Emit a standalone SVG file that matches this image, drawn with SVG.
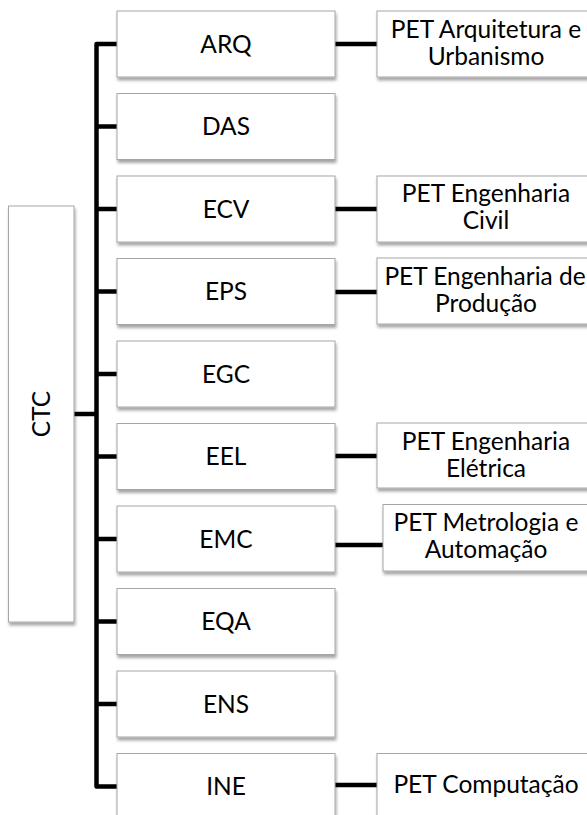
<svg xmlns="http://www.w3.org/2000/svg" width="587" height="815" viewBox="0 0 587 815">
<defs>
<filter id="sh" x="-10%" y="-10%" width="130%" height="140%">
<feDropShadow dx="1" dy="3" stdDeviation="1.5" flood-color="#000" flood-opacity="0.35"/>
</filter>
</defs>
<style>
.box{fill:#fff;stroke:#a6a6a6;stroke-width:1;filter:url(#sh)}
.t{font-family:Lato,"Liberation Sans",sans-serif;font-size:24.5px;fill:#000;text-anchor:middle}
.c{fill:none;stroke:#000;stroke-width:4.5;stroke-linejoin:round}
</style>
<rect width="587" height="815" fill="#fff"/>
<g id="connectors">
<path class="c" d="M117,44 H96.5 V786.5 H117"/>
<path class="c" d="M74,414 H96.5"/>
<path class="c" d="M96.5,126.5 H117 M96.5,209 H117 M96.5,291.5 H117 M96.5,374 H117 M96.5,456.5 H117 M96.5,539 H117 M96.5,621.5 H117 M96.5,704 H117"/>
<path class="c" d="M335,44 H377 M335,209 H377 M335,292 H377 M335,456 H377 M335,545 H383 M335,785 H377"/>
</g>
<g id="n-ctc"><rect class="box" x="8.5" y="206" width="65.5" height="416"/><text class="t" transform="translate(49.5,414) rotate(-90)">CTC</text></g>
<g id="n-arq"><rect class="box" x="117" y="11" width="218" height="66"/><text class="t" x="226" y="52.5">ARQ</text></g>
<g id="n-das"><rect class="box" x="117" y="93.5" width="218" height="66"/><text class="t" x="226" y="135">DAS</text></g>
<g id="n-ecv"><rect class="box" x="117" y="176" width="218" height="66"/><text class="t" x="226" y="217.5">ECV</text></g>
<g id="n-eps"><rect class="box" x="117" y="258.5" width="218" height="66"/><text class="t" x="226" y="300">EPS</text></g>
<g id="n-egc"><rect class="box" x="117" y="341" width="218" height="66"/><text class="t" x="226" y="382.5">EGC</text></g>
<g id="n-eel"><rect class="box" x="117" y="423.5" width="218" height="66"/><text class="t" x="226" y="465">EEL</text></g>
<g id="n-emc"><rect class="box" x="117" y="506" width="218" height="66"/><text class="t" x="226" y="547.5">EMC</text></g>
<g id="n-eqa"><rect class="box" x="117" y="588.5" width="218" height="66"/><text class="t" x="226" y="630">EQA</text></g>
<g id="n-ens"><rect class="box" x="117" y="671" width="218" height="66"/><text class="t" x="226" y="712.5">ENS</text></g>
<g id="n-ine"><rect class="box" x="117" y="753.5" width="218" height="66"/><text class="t" x="226" y="795">INE</text></g>
<g id="n-pet-arq"><rect class="box" x="377" y="11" width="220" height="66"/><text class="t" x="486" y="38">PET Arquitetura e</text><text class="t" x="486" y="65">Urbanismo</text></g>
<g id="n-pet-civil"><rect class="box" x="377" y="176" width="220" height="66"/><text class="t" x="486" y="202">PET Engenharia</text><text class="t" x="486" y="229">Civil</text></g>
<g id="n-pet-prod"><rect class="box" x="377" y="258" width="220" height="66"/><text class="t" x="485" y="285">PET Engenharia de</text><text class="t" x="486" y="312">Produção</text></g>
<g id="n-pet-ele"><rect class="box" x="377" y="423" width="220" height="65"/><text class="t" x="486" y="450">PET Engenharia</text><text class="t" x="486" y="477">Elétrica</text></g>
<g id="n-pet-met"><rect class="box" x="383" y="504.5" width="214" height="66.5"/><text class="t" x="486" y="531">PET Metrologia e</text><text class="t" x="486" y="558">Automação</text></g>
<g id="n-pet-comp"><rect class="box" x="377" y="753.5" width="220" height="66"/><text class="t" x="486" y="793">PET Computação</text></g>
</svg>
